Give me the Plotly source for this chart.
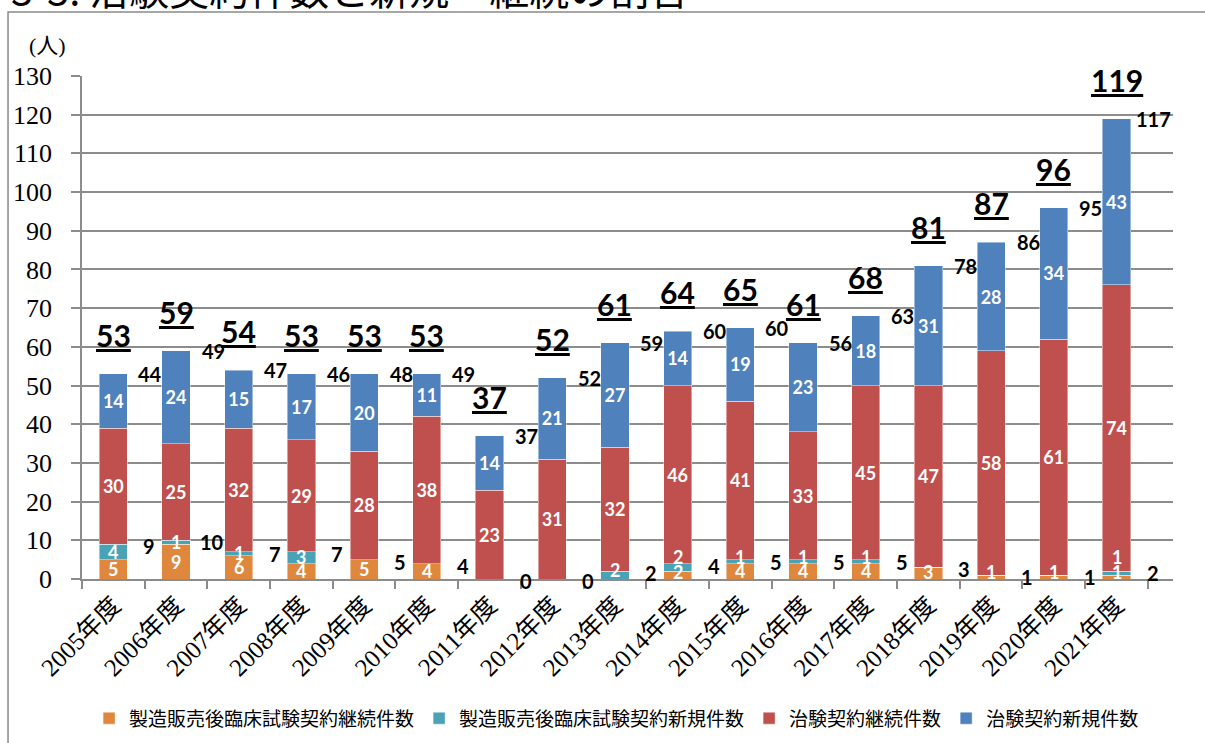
import plotly.graph_objects as go

years = ["2005年度", "2006年度", "2007年度", "2008年度", "2009年度", "2010年度", "2011年度",
         "2012年度", "2013年度", "2014年度", "2015年度", "2016年度", "2017年度", "2018年度",
         "2019年度", "2020年度", "2021年度"]
pms_cont = [5, 9, 6, 4, 5, 4, 0, 0, 0, 2, 4, 4, 4, 3, 1, 1, 1]
pms_new = [4, 1, 1, 3, 0, 0, 0, 0, 2, 2, 1, 1, 1, 0, 0, 0, 1]
trial_cont = [30, 25, 32, 29, 28, 38, 23, 31, 32, 46, 41, 33, 45, 47, 58, 61, 74]
trial_new = [14, 24, 15, 17, 20, 11, 14, 21, 27, 14, 19, 23, 18, 31, 28, 34, 43]

series_names = ["製造販売後臨床試験契約継続件数", "製造販売後臨床試験契約新規件数",
                "治験契約継続件数", "治験契約新規件数"]
colors = ["#E0873E", "#4AA2B7", "#C0504D", "#4F81BD"]

totals = [a + b + c + d for a, b, c, d in zip(pms_cont, pms_new, trial_cont, trial_new)]
trial_sum = [c + d for c, d in zip(trial_cont, trial_new)]
pms_sum = [a + b for a, b in zip(pms_cont, pms_new)]

LABEL_FONT = "Lato, Carlito, 'Liberation Sans', sans-serif"
SERIF = "'Liberation Serif', 'Noto Sans CJK JP', serif"

fig = go.Figure()
all_series = [pms_cont, pms_new, trial_cont, trial_new]
for i, (name, vals, col) in enumerate(zip(series_names, all_series, colors)):
    show_text = i >= 2
    fig.add_trace(go.Bar(
        x=years, y=vals, name=name,
        marker=dict(color=col, line=dict(color="rgba(255,255,255,0.55)", width=0.8)),
        text=[str(v) if (v and show_text) else "" for v in vals],
        textposition="inside", insidetextanchor="middle", textangle=0,
        constraintext="none",
        textfont=dict(family=LABEL_FONT, size=18, color="white", weight="bold"),
        width=0.45,
    ))

white_bold = dict(family=LABEL_FONT, size=18, color="white", weight="bold")
annotations = []
for yr, oc, tn in zip(years, pms_cont, pms_new):
    oy = max(oc / 2.0, 1.8)
    if oc:
        annotations.append(dict(x=yr, y=oy, xref="x", yref="y", text=str(oc), showarrow=False,
                                yanchor="middle", font=white_bold))
    if tn:
        base = oy + 3.8 if oc else 2.4
        ty = max(oc + tn / 2.0, base)
        annotations.append(dict(x=yr, y=ty, xref="x", yref="y", text=str(tn), showarrow=False,
                                yanchor="middle", font=white_bold))

for yr, tot, ts, ps in zip(years, totals, trial_sum, pms_sum):
    annotations.append(dict(x=yr, y=tot, xref="x", yref="y", text="<u>%d</u>" % tot,
                            showarrow=False, yanchor="middle", yshift=39,
                            font=dict(family=LABEL_FONT, size=30, color="black", weight="bold")))
    annotations.append(dict(x=yr, y=tot, xref="x", yref="y", text=str(ts),
                            showarrow=False, xanchor="center", xshift=37, yanchor="middle",
                            font=dict(family=LABEL_FONT, size=20, color="black", weight="bold")))
    annotations.append(dict(x=yr, y=ps, xref="x", yref="y", text=str(ps),
                            showarrow=False, xanchor="center", xshift=36, yanchor="middle", yshift=-2,
                            font=dict(family=LABEL_FONT, size=20, color="black", weight="bold")))

annotations.append(dict(x=-0.032, y=1.06, xref="paper", yref="paper", text="(人)",
                        showarrow=False, xanchor="center", yanchor="middle",
                        font=dict(family=SERIF, size=22, color="black")))
annotations.append(dict(x=-0.067, y=1.113, xref="paper", yref="paper",
                        text="3-3. 治験契約件数と新規・継続の割合",
                        showarrow=False, xanchor="left", yanchor="bottom",
                        font=dict(family="'Noto Sans CJK JP', sans-serif", size=40, color="black")))

fig.update_layout(
    barmode="stack",
    width=1205, height=743,
    margin=dict(l=82, r=32, t=76, b=164, autoexpand=False),
    paper_bgcolor="white", plot_bgcolor="white",
    uniformtext=dict(minsize=18, mode="show"),
    showlegend=True,
    legend=dict(orientation="h", x=0.49, xanchor="center", y=-0.277, yanchor="middle",
                traceorder="normal", font=dict(family=SERIF, size=19, color="black"),
                itemwidth=30, tracegroupgap=0),
    annotations=annotations,
    shapes=[dict(type="rect", xref="paper", yref="paper", x0=-0.0678, y0=-0.34, x1=1.04, y1=1.1272,
                 line=dict(color="#8A8A8A", width=1.5), fillcolor="rgba(0,0,0,0)", layer="below")],
)
fig.update_yaxes(range=[0, 130], dtick=10, showgrid=True, gridcolor="#8C8C8C", gridwidth=1.5,
                 showline=True, linecolor="#8C8C8C", linewidth=1.5, automargin=False,
                 ticks="outside", ticklen=9, tickcolor="#8C8C8C", tickwidth=1.5,
                 ticklabelstandoff=14,
                 tickfont=dict(family=SERIF, size=26, color="black"), zeroline=False)
fig.update_xaxes(type="category", tickangle=-45, showline=True, linecolor="#8C8C8C", linewidth=1.5,
                 ticks="outside", ticklen=8, tickcolor="#8C8C8C", tickwidth=1.5, tickson="boundaries",
                 automargin=False,
                 tickfont=dict(family=SERIF, size=25, color="black"), showgrid=False)

fig.write_html("out.html", config={"displayModeBar": False},
               post_script="document.body.style.margin='0';document.body.style.overflow='hidden';")
